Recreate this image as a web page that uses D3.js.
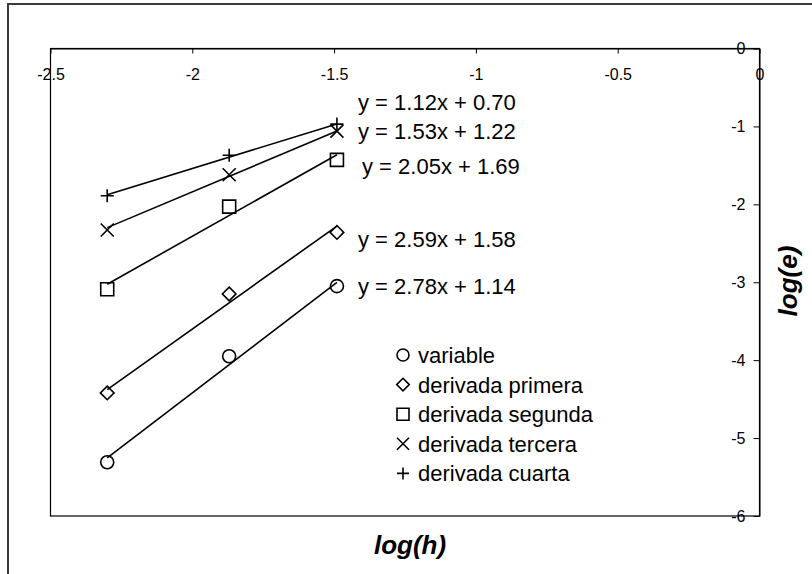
<!DOCTYPE html>
<html><head><meta charset="utf-8">
<script src="https://cdn.jsdelivr.net/npm/d3@7"></script>
<style>
body{margin:0;background:#fff;}
svg{display:block;font-family:"Liberation Sans",Arial,sans-serif;}
</style></head>
<body>
<svg id="c" width="812" height="574"></svg>
<script>
// ---- data ----
const seriesNames = ["variable","derivada primera","derivada segunda","derivada tercera","derivada cuarta"];
const seriesSymbols = ["circle","diamond","square","times","plus"];
const logH = [-2.30, -1.87, -1.49];
const valVariable = [-5.31, -3.95, -3.05];
const valPrimera  = [-4.42, -3.15, -2.36];
const valSegunda  = [-3.09, -2.03, -1.43];
const valTercera  = [-2.33, -1.62, -1.06];
const valCuarta   = [-1.89, -1.37, -0.97];
const slopes     = [2.78, 2.59, 2.05, 1.53, 1.12];
const intercepts = [1.14, 1.58, 1.69, 1.22, 0.70];
const xTickValues = [-2.5, -2, -1.5, -1, -0.5, 0];
const xTickLabels = ["-2.5","-2","-1.5","-1","-0.5","0"];
const yTickValues = [0, -1, -2, -3, -4, -5, -6];
const yTickLabels = ["0","-1","-2","-3","-4","-5","-6"];
const xTitle = "log(h)", yTitle = "log(e)";

const allValues = [valVariable, valPrimera, valSegunda, valTercera, valCuarta];

// ---- layout ----
const svg = d3.select("#c");
const plot = {left:50.5, right:759.5, top:48.5, bottom:516};
const x = d3.scaleLinear().domain([-2.5, 0]).range([plot.left, plot.right]);
const y = d3.scaleLinear().domain([-6, 0]).range([plot.bottom, plot.top]);
// equation label anchors (pixels) for series in order
const eqPos = [[358,286],[358,239],[362,166],[358,131],[358,102]];

// outer frame
svg.append("rect").attr("x",8).attr("y",4).attr("width",900).attr("height",700)
  .attr("fill","#fff").attr("stroke","#3a3a3a").attr("stroke-width",2);

// plot area
svg.append("rect").attr("x",plot.left).attr("y",plot.top)
  .attr("width",plot.right-plot.left).attr("height",plot.bottom-plot.top)
  .attr("fill","none").attr("stroke","#000").attr("stroke-width",1.2);

// x axis (at y=0, top)
const xAxis = d3.axisBottom(x).tickValues(xTickValues)
  .tickFormat((d,i)=>xTickLabels[i]).tickSize(5).tickSizeOuter(0).tickPadding(15);
const gx = svg.append("g").attr("transform",`translate(0,${y(0)})`).call(xAxis);
gx.attr("font-family","'Liberation Sans',Arial,sans-serif");
gx.selectAll("text").attr("fill","#000").style("font-size","16px");
gx.selectAll("line,path").attr("stroke","#000");

// y axis (at x=0, right)
const yAxis = d3.axisLeft(y).tickValues(yTickValues)
  .tickFormat((d,i)=>yTickLabels[i]).tickSize(6).tickSizeOuter(0).tickPadding(8);
const gy = svg.append("g").attr("transform",`translate(${x(0)},0)`).call(yAxis);
gy.attr("font-family","'Liberation Sans',Arial,sans-serif");
gy.selectAll("text").attr("fill","#000").style("font-size","16px");
gy.selectAll("line,path").attr("stroke","#000");

// symbol path generator
function sym(type, cx, cy, r){
  const p = d3.path();
  if(type==="circle"){ p.moveTo(cx+r,cy); p.arc(cx,cy,r,0,2*Math.PI); }
  else if(type==="square"){ p.rect(cx-r,cy-r,2*r,2*r); }
  else if(type==="diamond"){ const d=r*1.05; p.moveTo(cx,cy-d); p.lineTo(cx+d,cy); p.lineTo(cx,cy+d); p.lineTo(cx-d,cy); p.closePath(); }
  else if(type==="times"){ p.moveTo(cx-r,cy-r); p.lineTo(cx+r,cy+r); p.moveTo(cx+r,cy-r); p.lineTo(cx-r,cy+r); }
  else if(type==="plus"){ p.moveTo(cx-r,cy); p.lineTo(cx+r,cy); p.moveTo(cx,cy-r); p.lineTo(cx,cy+r); }
  return p.toString();
}

// trendlines
const line = d3.line().x(d=>x(d[0])).y(d=>y(d[1]));
const x0 = d3.min(logH), x1 = d3.max(logH);
slopes.forEach((m,i)=>{
  const b = intercepts[i];
  svg.append("path").attr("d", line([[x0, m*x0+b],[x1, m*x1+b]]))
    .attr("fill","none").attr("stroke","#000").attr("stroke-width",1.6);
});

// markers
allValues.forEach((vals,i)=>{
  svg.append("g").selectAll("path").data(vals).join("path")
    .attr("d",(v,j)=>sym(seriesSymbols[i], x(logH[j]), y(v), 6.5))
    .attr("fill","none").attr("stroke","#000").attr("stroke-width",1.6);
});

// equation labels
slopes.forEach((m,i)=>{
  svg.append("text").attr("x",eqPos[i][0]).attr("y",eqPos[i][1]).attr("dy","0.36em")
    .attr("font-size",22).attr("fill","#000")
    .text(`y = ${m.toFixed(2)}x + ${intercepts[i].toFixed(2)}`);
});

// legend
const lg = svg.append("g");
seriesNames.forEach((n,i)=>{
  const cy = 355 + i*29.6;
  lg.append("path").attr("d", sym(seriesSymbols[i], 403, cy, 6))
    .attr("fill","none").attr("stroke","#000").attr("stroke-width",1.6);
  lg.append("text").attr("x",418).attr("y",cy).attr("dy","0.36em")
    .attr("font-size",22).attr("fill","#000").text(n);
});

// axis titles
svg.append("text").attr("x",410).attr("y",545).attr("dy","0.36em")
  .attr("text-anchor","middle").attr("font-size",26).attr("font-weight","bold")
  .attr("font-style","italic").text(xTitle);
svg.append("text").attr("transform","translate(788,281) rotate(-90)").attr("dy","0.36em")
  .attr("text-anchor","middle").attr("font-size",26).attr("font-weight","bold")
  .attr("font-style","italic").text(yTitle);
</script>
</body></html>
